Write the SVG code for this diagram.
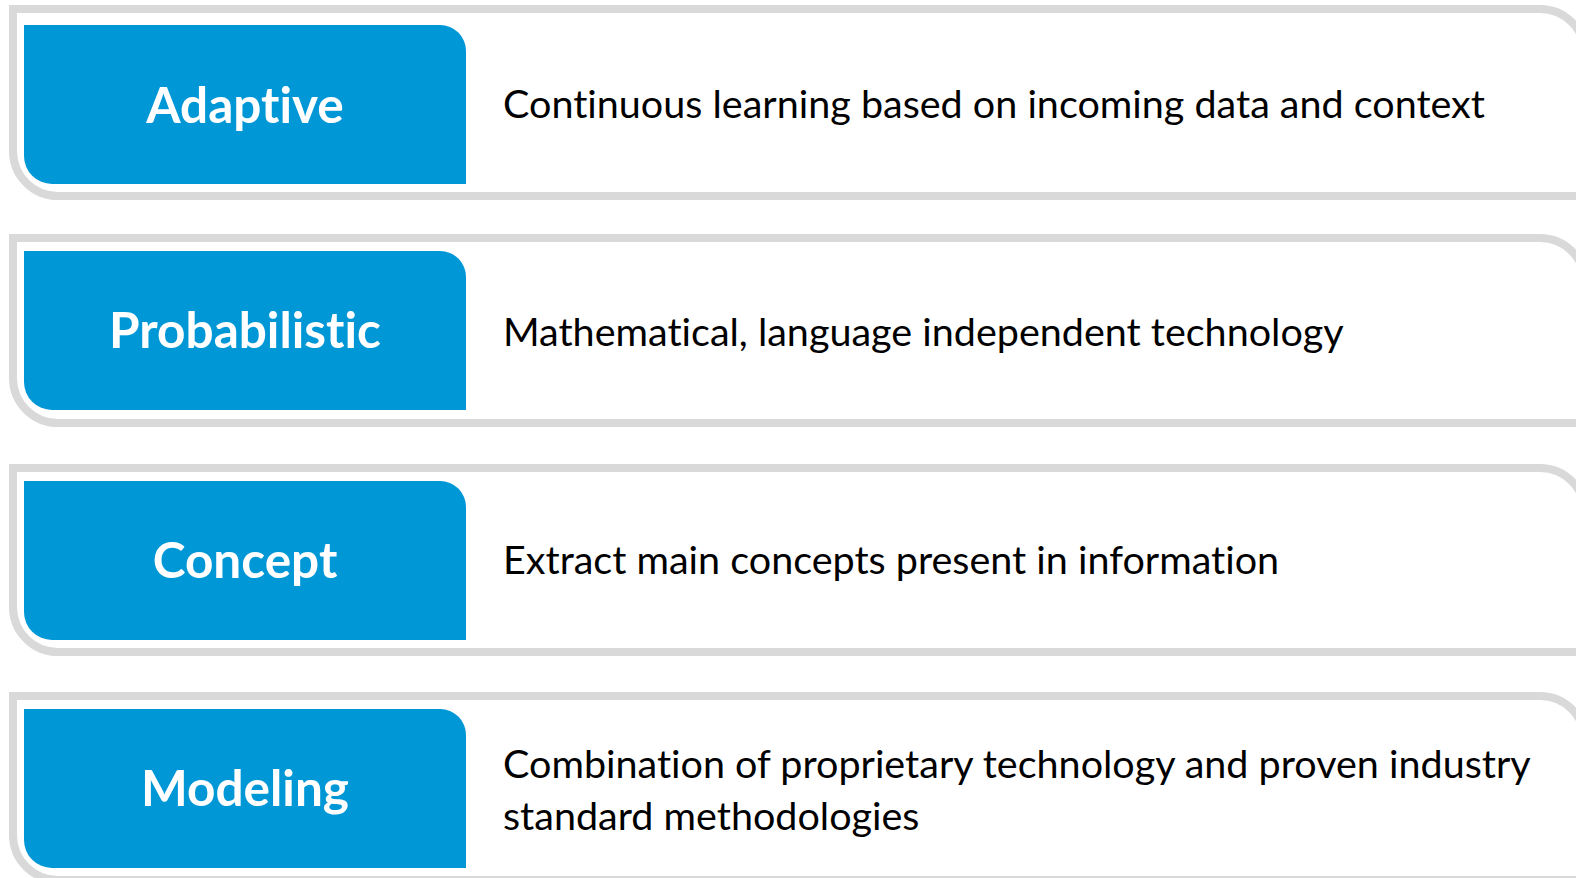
<svg xmlns="http://www.w3.org/2000/svg" width="1576" height="878" viewBox="0 0 1576 878">
<style>
.frame{fill:#fff;stroke:#d9d9d9;stroke-width:8}
.tab{fill:#0097d6}
.title{font-family:Lato,"Liberation Sans",sans-serif;font-weight:bold;font-size:49.5px;fill:#fff;text-anchor:middle;font-variant-ligatures:none}
.desc{font-family:Lato,"Liberation Sans",sans-serif;font-size:39.5px;fill:#000;font-variant-ligatures:none}
</style>
<rect width="1576" height="878" fill="#fff"/>
<g id="row1">
<path class="frame" d="M13,9 H1540 A45,45 0 0 1 1585,54 V196 H58 A45,45 0 0 1 13,151 Z"/>
<path class="tab" d="M24,25 H440 A26,26 0 0 1 466,51 V184 H52 A28,28 0 0 1 24,156 Z"/>
<text class="title" x="245" y="123">Adaptive</text>
<text class="desc" x="503" y="118">Continuous learning based on incoming data and context</text>
</g>
<g id="row2" transform="translate(0,226)">
<path class="frame" d="M13,12 H1540 A45,45 0 0 1 1585,57 V197 H58 A45,45 0 0 1 13,152 Z"/>
<path class="tab" d="M24,25 H440 A26,26 0 0 1 466,51 V184 H52 A28,28 0 0 1 24,156 Z"/>
<text class="title" x="245" y="122">Probabilistic</text>
<text class="desc" x="503" y="120">Mathematical, language independent technology</text>
</g>
<g id="row3" transform="translate(0,456)">
<path class="frame" d="M13,12 H1540 A45,45 0 0 1 1585,57 V196 H58 A45,45 0 0 1 13,151 Z"/>
<path class="tab" d="M24,25 H440 A26,26 0 0 1 466,51 V184 H52 A28,28 0 0 1 24,156 Z"/>
<text class="title" x="245" y="122">Concept</text>
<text class="desc" x="503" y="118">Extract main concepts present in information</text>
</g>
<g id="row4" transform="translate(0,684)">
<path class="frame" d="M13,12 H1540 A45,45 0 0 1 1585,57 V196 H58 A45,45 0 0 1 13,151 Z"/>
<path class="tab" d="M24,25 H440 A26,26 0 0 1 466,51 V184 H52 A28,28 0 0 1 24,156 Z"/>
<text class="title" x="245" y="122">Modeling</text>
<text class="desc" x="503" y="94">Combination of proprietary technology and proven industry</text>
<text class="desc" x="503" y="146">standard methodologies</text>
</g>
</svg>
